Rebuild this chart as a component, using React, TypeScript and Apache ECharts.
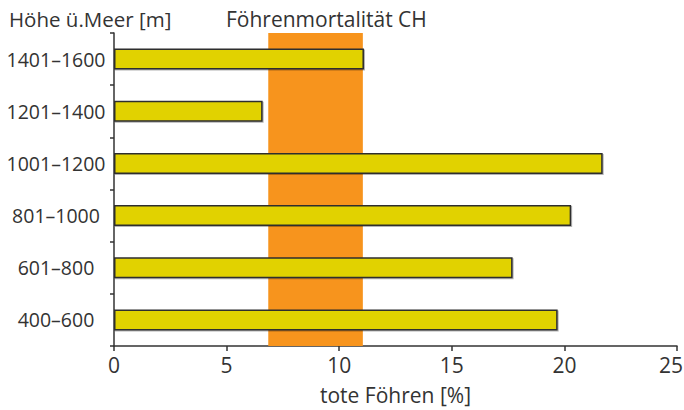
import React, { useEffect, useRef } from "react";
import * as echarts from "echarts";

const categories = ["400–600", "601–800", "801–1000", "1001–1200", "1201–1400", "1401–1600"];
const deadPines = [19.7, 17.7, 20.3, 21.7, 6.6, 11.1];
const swissBand = [6.85, 11.05];
const xTicks = { min: 0, max: 25, interval: 5 };

const FONT = "'Open Sans', 'Noto Sans', sans-serif";
const TEXT = "#333333";

export default function App() {
  const ref = useRef<HTMLDivElement>(null);
  useEffect(() => {
    if (!ref.current) return;
    const chart = echarts.init(ref.current, undefined, { renderer: "svg" });
    chart.setOption({
      animation: false,
      backgroundColor: "#ffffff",
      textStyle: { fontFamily: FONT },
      title: [
        {
          text: "Höhe ü.Meer [m]",
          left: 4,
          top: 3,
          textStyle: { fontFamily: FONT, fontSize: 20.5, fontWeight: "normal", color: TEXT },
        },
        {
          text: "Föhrenmortalität CH",
          left: 221,
          top: 3,
          textStyle: { fontFamily: FONT, fontSize: 21, fontWeight: "normal", color: TEXT },
        },
      ],
      grid: { left: 114, right: 7, top: 33, bottom: 64, containLabel: false, outerBoundsMode: "none" },
      xAxis: {
        type: "value",
        min: xTicks.min,
        max: xTicks.max,
        interval: xTicks.interval,
        name: "tote Föhren [%]",
        nameLocation: "middle",
        nameGap: 38,
        nameTextStyle: { fontFamily: FONT, fontSize: 21, color: TEXT },
        axisLine: { show: true, lineStyle: { color: TEXT, width: 1.5 } },
        axisTick: { show: true, length: 5, lineStyle: { color: TEXT, width: 1.5 } },
        axisLabel: {
          fontFamily: FONT,
          fontSize: 21,
          color: TEXT,
          margin: 8,
          formatter: (v: number) => (v === xTicks.max ? `{last|${v}}` : `${v}`),
          rich: {
            last: { fontFamily: FONT, fontSize: 21, color: TEXT, padding: [0, 12, 0, 0] },
          },
        },
        splitLine: { show: false },
      },
      yAxis: {
        type: "category",
        data: categories,
        axisLine: { show: true, lineStyle: { color: TEXT, width: 1.5 } },
        axisTick: { show: true, length: 4, alignWithLabel: false, lineStyle: { color: TEXT, width: 1.5 } },
        axisLabel: { fontFamily: FONT, fontSize: 19.5, color: TEXT, margin: 58, align: "center" },
        splitLine: { show: false },
      },
      series: [
        {
          type: "bar",
          data: deadPines,
          barWidth: 21,
          itemStyle: {
            color: "#e1d200",
            borderColor: "#2e2e2e",
            borderWidth: 1.5,
            shadowColor: "rgba(0,0,0,0.3)",
            shadowOffsetX: 1,
            shadowOffsetY: 1,
            shadowBlur: 1,
          },
          markArea: {
            silent: true,
            itemStyle: { color: "#f7941d" },
            data: [[{ xAxis: swissBand[0] }, { xAxis: swissBand[1] }]],
          },
        },
      ],
    });
    return () => chart.dispose();
  }, []);
  return <div ref={ref} style={{ width: 684, height: 410, position: "absolute", left: 0, top: 0 }} />;
}
